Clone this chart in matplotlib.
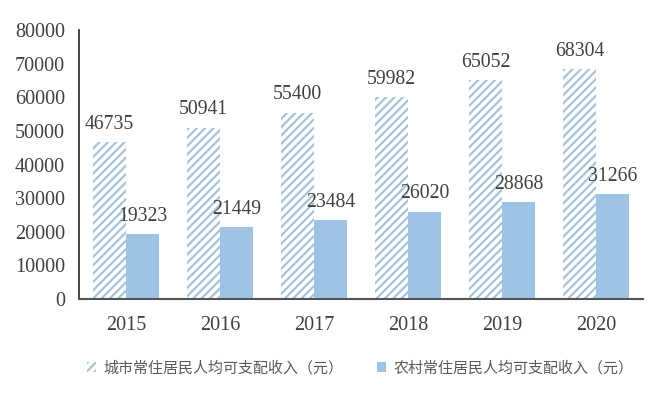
import matplotlib
matplotlib.use("Agg")
import matplotlib.pyplot as plt
import numpy as np

years = ["2015", "2016", "2017", "2018", "2019", "2020"]
urban = [46735, 50941, 55400, 59982, 65052, 68304]
rural = [19323, 21449, 23484, 26020, 28868, 31266]
urban_label = "城市常住居民人均可支配收入（元）"
rural_label = "农村常住居民人均可支配收入（元）"

plt.rcParams["hatch.linewidth"] = 1.6
text_color = "#404040"
hatch_color = "#a6c4d8"
solid_color = "#9dc3e6"

fig = plt.figure(figsize=(6.6, 4.11), dpi=100)
ax = fig.add_axes([0.1197, 0.2725, 0.8543, 0.6545])

x = np.arange(len(years))
w = 0.35
b1 = ax.bar(x - w / 2, urban, w, facecolor="white", edgecolor=hatch_color,
            hatch="////", linewidth=0, label=urban_label)
b2 = ax.bar(x + w / 2, rural, w, color=solid_color, linewidth=0, label=rural_label)

serif = {"family": "Liberation Serif", "size": 14.2, "color": text_color}
for bars, vals in ((b1, urban), (b2, rural)):
    for bar, v in zip(bars, vals):
        ax.annotate(str(v), (bar.get_x() + bar.get_width() / 2, v),
                    xytext=(0, 6), textcoords="offset points",
                    ha="center", va="bottom", **serif)

ax.set_xlim(-0.5, len(years) - 0.5)
ax.set_ylim(0, 80000)
ax.set_yticks(range(0, 80001, 10000))
ax.set_xticks(x)
ax.set_xticklabels(years)
for lab in ax.get_xticklabels() + ax.get_yticklabels():
    lab.set_fontfamily("Liberation Serif")
    lab.set_fontsize(14.5)
    lab.set_color(text_color)
ax.tick_params(axis="both", length=0)
ax.tick_params(axis="x", pad=12)
ax.tick_params(axis="y", pad=10)
for s in ("top", "right"):
    ax.spines[s].set_visible(False)
ax.spines["left"].set_color("#222222")
ax.spines["bottom"].set_color("#555555")
ax.spines["left"].set_linewidth(1.2)
ax.spines["bottom"].set_linewidth(1.5)

fig.legend(handles=[b1, b2], loc="center", bbox_to_anchor=(0.546, 0.105), ncol=2,
           frameon=False, prop={"family": ["Noto Sans CJK SC", "DejaVu Sans"], "size": 10.8},
           labelcolor="#595959", handlelength=0.6, handleheight=0.6,
           handletextpad=0.5, columnspacing=2.2)

fig.savefig("out.png", dpi=100)
